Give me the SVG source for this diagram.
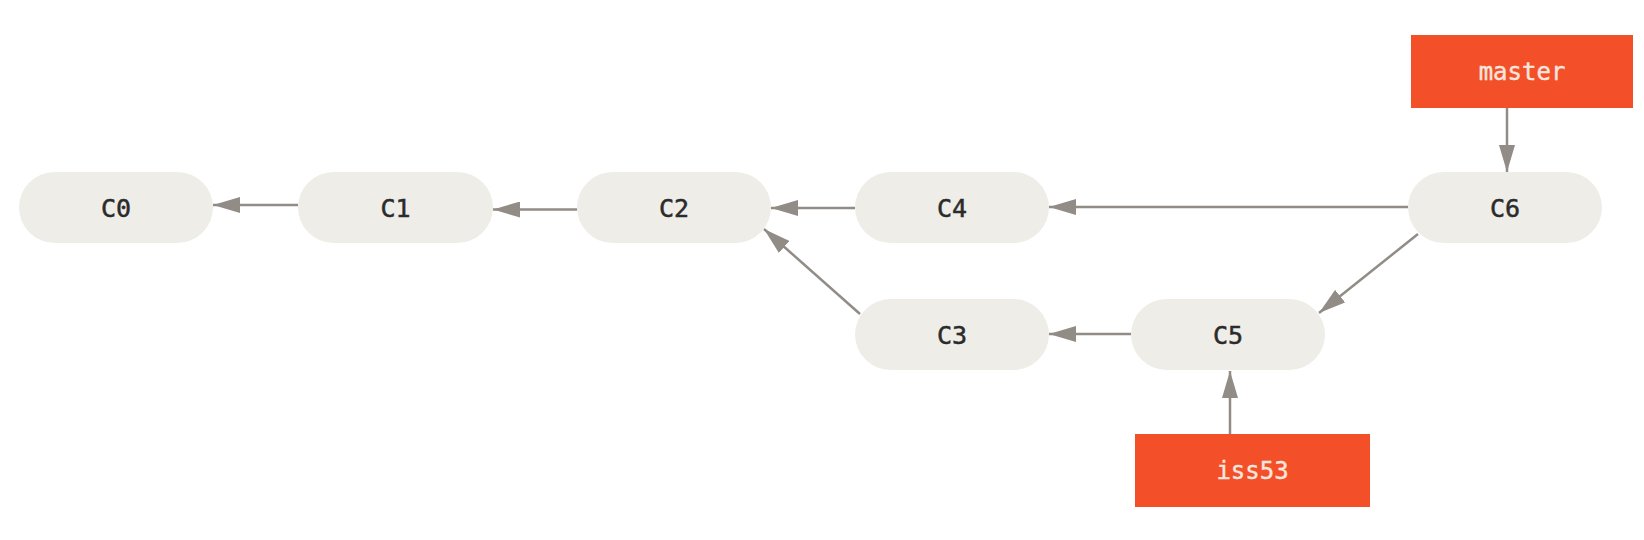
<svg xmlns="http://www.w3.org/2000/svg" width="1644" height="540" viewBox="0 0 1644 540">
<style>
.commit rect{fill:#eeede7;}
.commit text{font-family:"DejaVu Sans Mono","Liberation Mono",monospace;font-size:25px;fill:#2b2b2b;stroke:#2b2b2b;stroke-width:0.5;text-anchor:middle;}
.branch rect{fill:#f34f29;}
.branch text{font-family:"DejaVu Sans Mono","Liberation Mono",monospace;font-size:24px;fill:#f6e6df;stroke:#f6e6df;stroke-width:0.4;text-anchor:middle;}
.edges line{stroke:#918c86;stroke-width:2.5;marker-end:url(#ah);}
</style>
<defs>
<marker id="ah" markerUnits="userSpaceOnUse" markerWidth="27" markerHeight="16" refX="27" refY="8" orient="auto">
<path d="M0,0 L27,8 L0,16 Z" fill="#918c86"/>
</marker>
</defs>
<rect width="1644" height="540" fill="#ffffff"/>
<g class="edges" id="connectors">
<line x1="298" y1="205" x2="213" y2="205"/>
<line x1="577" y1="209.5" x2="493" y2="209.5"/>
<line x1="855" y1="208" x2="771" y2="208"/>
<line x1="1408" y1="207" x2="1049" y2="207"/>
<line x1="860" y1="314" x2="764" y2="229"/>
<line x1="1131" y1="334" x2="1049" y2="334"/>
<line x1="1418" y1="234" x2="1319" y2="313"/>
<line x1="1507" y1="108" x2="1507" y2="172"/>
<line x1="1230" y1="434" x2="1230" y2="371"/>
</g>
<g class="commit" id="C0"><rect x="19" y="172" width="194" height="71" rx="35.5"/><text x="116" y="217">C0</text></g>
<g class="commit" id="C1"><rect x="298" y="172" width="195" height="71" rx="35.5"/><text x="395.5" y="217">C1</text></g>
<g class="commit" id="C2"><rect x="577" y="172" width="194" height="71" rx="35.5"/><text x="674" y="217">C2</text></g>
<g class="commit" id="C4"><rect x="855" y="172" width="194" height="71" rx="35.5"/><text x="952" y="217">C4</text></g>
<g class="commit" id="C6"><rect x="1408" y="172" width="194" height="71" rx="35.5"/><text x="1505" y="217">C6</text></g>
<g class="commit" id="C3"><rect x="855" y="299" width="194" height="71" rx="35.5"/><text x="952" y="344">C3</text></g>
<g class="commit" id="C5"><rect x="1131" y="299" width="194" height="71" rx="35.5"/><text x="1228" y="344">C5</text></g>
<g class="branch" id="master"><rect x="1411" y="35" width="222" height="73"/><text x="1522" y="80">master</text></g>
<g class="branch" id="iss53"><rect x="1135" y="434" width="235" height="73"/><text x="1252.5" y="479">iss53</text></g>
</svg>
